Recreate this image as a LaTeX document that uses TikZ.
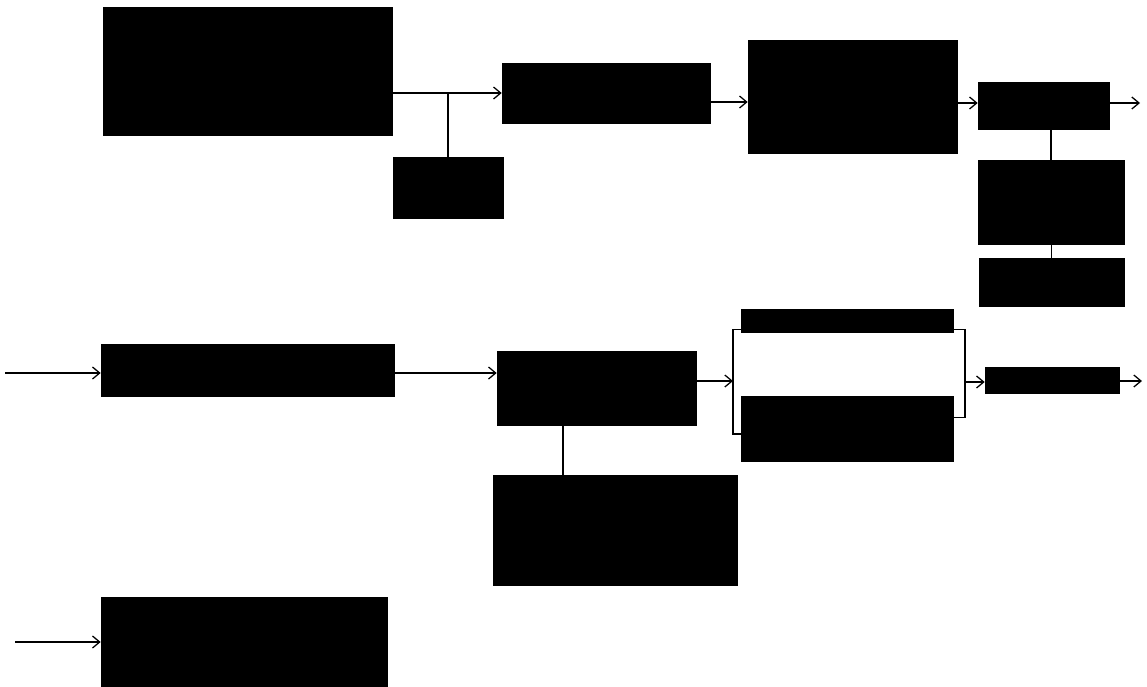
\documentclass[tikz,border=0pt]{standalone}
\usepackage{tikz}
\usetikzlibrary{arrows.meta,positioning,calc}
\tikzset{
  blk/.style={draw=black,fill=black,inner sep=0pt},
  arr/.style={-{Straight Barb[length=1.8mm,width=3mm]},line width=0.9pt},
  ln/.style={line width=0.9pt}
}

\begin{document}
\begin{tikzpicture}[x=0.025cm, y=-0.025cm]
\useasboundingbox (0,0) rectangle (1147,686);
% top row
\node[blk,minimum width=7.225cm,minimum height=3.2cm] (src) at (247.5,71) {};
\node[blk,minimum width=2.75cm,minimum height=1.525cm] (tap) at (448,187.5) {};
\node[blk,minimum width=5.2cm,minimum height=1.5cm] (stage1) at (606,93) {};
\node[blk,minimum width=5.225cm,minimum height=2.825cm] (stage2) at (852.5,96.5) {};
\node[blk,minimum width=3.275cm,minimum height=1.175cm] (outA) at (1043.5,105.5) {};
\node[blk,minimum width=3.65cm,minimum height=2.1cm] (ctrlA) at (1051,202) {};
\node[blk,minimum width=3.625cm,minimum height=1.2cm] (ctrlB) at (1051.5,282) {};
% middle row
\node[blk,minimum width=7.325cm,minimum height=1.3cm] (src2) at (247.5,370) {};
\node[blk,minimum width=4.975cm,minimum height=1.85cm] (proc) at (596.5,388) {};
\node[blk,minimum width=6.1cm,minimum height=2.75cm] (aux) at (615,530) {};
\node[blk,minimum width=5.3cm,minimum height=0.575cm] (pathA) at (847,320.5) {};
\node[blk,minimum width=5.3cm,minimum height=1.625cm] (pathB) at (847,428.5) {};
\node[blk,minimum width=3.35cm,minimum height=0.65cm] (outB) at (1052,380) {};
% bottom row
\node[blk,minimum width=7.15cm,minimum height=2.225cm] (src3) at (244,641.5) {};
% free ends and junctions
\coordinate (inH) at (5,373);
\coordinate (inN) at (15,642);
\coordinate (endE) at (1140,103);
\coordinate (endM) at (1142,381);
\coordinate (bl) at (733,381);
\coordinate (br) at (965,382);
\coordinate (ij) at (563,425);

\draw[arr] (src.east |- stage1.west) -- (stage1.west);
\draw[ln] (tap.north |- stage1.west) -- (tap.north);
\draw[arr] ($(stage1.east)+(0,9)$) -- ($(stage1.east -| stage2.west)+(0,9)$);
\draw[arr] (endE -| stage2.east) -- (endE -| outA.west);
\draw[arr] (endE -| outA.east) -- (endE);
\draw[ln] (ctrlA.north |- outA.south) -- (ctrlA.north);
\draw[ln] (ctrlB.north |- ctrlA.south) -- (ctrlB.north);

\draw[arr] (inH) -- (inH -| src2.west);
\draw[arr] (inH -| src2.east) -- (inH -| proc.west);
\draw[arr] (bl -| proc.east) -- (bl);
\draw[ln] ([yshift=2pt]pathA.south west) -| (bl) |- ([yshift=-4pt]pathB.west);
\draw[ln] ([yshift=2pt]pathA.south east) -| (br) |- ([yshift=8pt]pathB.east);
\draw[arr] (br) -- (br -| outB.west);
\draw[arr] (endM -| outB.east) -- (endM);
\draw[ln] (ij) -- (ij |- aux.north);

\draw[arr] (inN) -- (inN -| src3.west);
\end{tikzpicture}
\end{document}
